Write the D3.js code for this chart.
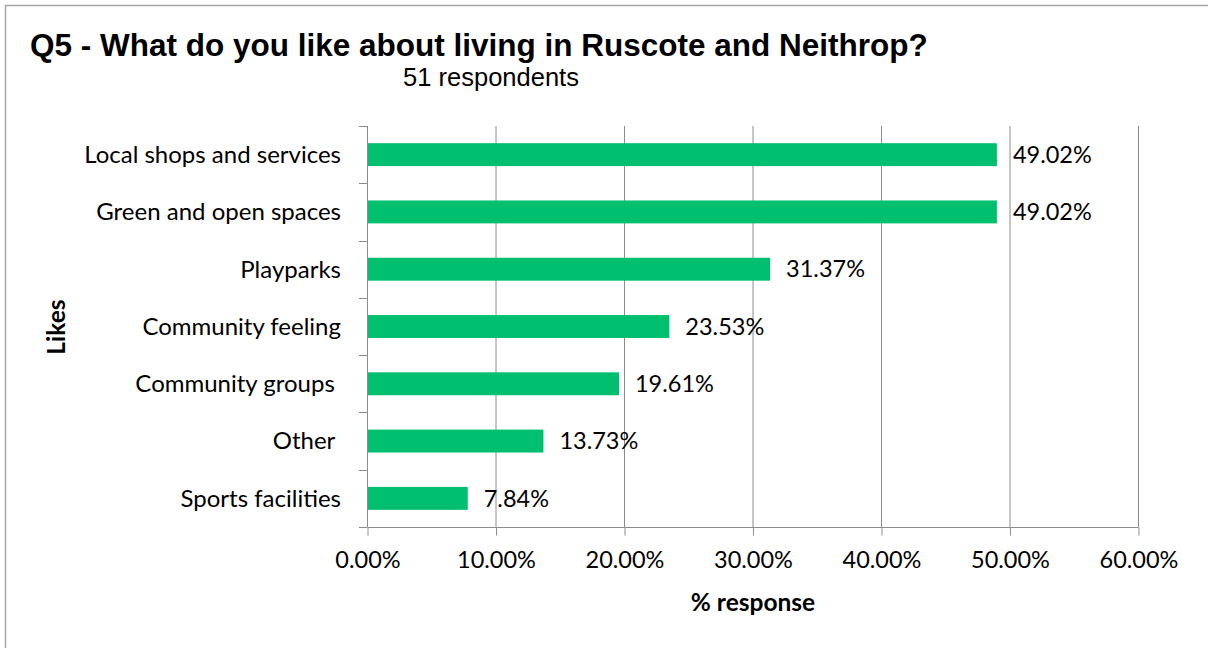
<!DOCTYPE html>
<html>
<head>
<meta charset="utf-8">
<script src="https://cdn.jsdelivr.net/npm/d3@7"></script>
<style>
  html, body { margin: 0; padding: 0; background: #fff; }
  svg { display: block; }
  .lbl { font-family: Lato, "Liberation Sans", sans-serif; white-space: pre; }
</style>
</head>
<body>
<svg id="chart" width="1208" height="648"></svg>
<script>
// Survey responses for Q5
const categories = [
  "Local shops and services",
  "Green and open spaces",
  "Playparks",
  "Community feeling",
  "Community groups ",
  "Other ",
  "Sports facilities"
];
const values = [49.02, 49.02, 31.37, 23.53, 19.61, 13.73, 7.84];
const xTicks = [0, 10, 20, 30, 40, 50, 60];

const svg = d3.select("#chart");
const W = 1208, H = 648;
const plot = { left: 367, right: 1138, top: 126, bottom: 527 };
const fs = 23.5;

// chart frame
svg.append("rect")
  .attr("x", 5.5).attr("y", 5.5)
  .attr("width", W + 10).attr("height", H + 10)
  .attr("fill", "#fff").attr("stroke", "#a6a6a6").attr("stroke-width", 1.5);

const x = d3.scaleLinear().domain([0, 60]).range([plot.left, plot.right]);
const y = d3.scaleBand().domain(categories).range([plot.top, plot.bottom]).paddingInner(0.6).paddingOuter(0.3);
const yEdges = d3.scaleLinear().domain([0, categories.length]).range([plot.top, plot.bottom]);

const gridColor = "#8c8c8c";

// vertical gridlines
svg.append("g").selectAll("line")
  .data(xTicks.slice(1))
  .join("line")
  .attr("x1", d => x(d) + 0.5).attr("x2", d => x(d) + 0.5)
  .attr("y1", plot.top).attr("y2", plot.bottom)
  .attr("stroke", gridColor).attr("stroke-width", 1);

// bars
svg.append("g").selectAll("rect")
  .data(values)
  .join("rect")
  .attr("x", x(0))
  .attr("y", (d, i) => y(categories[i]))
  .attr("width", d => x(d) - x(0))
  .attr("height", y.bandwidth())
  .attr("fill", "#00bf6f");

// bottom axis
const xAxis = d3.axisBottom(x).tickValues(xTicks).tickSize(8).tickPadding(16)
  .tickFormat(d => d.toFixed(2) + "%");
const gx = svg.append("g").attr("transform", `translate(0.5,${plot.bottom + 0.5})`).call(xAxis);
gx.select(".domain").attr("stroke", gridColor).attr("d", `M${plot.left},0H${plot.right}`);
gx.selectAll(".tick line").attr("stroke", gridColor);
gx.selectAll(".tick text").attr("class", "lbl").attr("font-size", fs).attr("fill", "#000");

// left axis line and category boundary ticks
svg.append("line")
  .attr("x1", plot.left + 0.5).attr("x2", plot.left + 0.5)
  .attr("y1", plot.top).attr("y2", plot.bottom)
  .attr("stroke", gridColor);
svg.append("g").selectAll("line")
  .data(d3.range(categories.length + 1))
  .join("line")
  .attr("x1", plot.left - 8).attr("x2", plot.left)
  .attr("y1", d => Math.round(yEdges(d)) + 0.5).attr("y2", d => Math.round(yEdges(d)) + 0.5)
  .attr("stroke", gridColor);

// category labels
svg.append("g").selectAll("text")
  .data(categories)
  .join("text")
  .attr("class", "lbl")
  .attr("x", 341)
  .attr("y", d => y(d) + y.bandwidth() / 2)
  .attr("dy", "0.35em")
  .attr("text-anchor", "end")
  .attr("font-size", 24)
  .text(d => d);

// value labels
svg.append("g").selectAll("text")
  .data(values)
  .join("text")
  .attr("class", "lbl")
  .attr("x", d => x(d) + 16)
  .attr("y", (d, i) => y(categories[i]) + y.bandwidth() / 2)
  .attr("dy", "0.35em")
  .attr("font-size", fs)
  .text(d => d.toFixed(2) + "%");

// titles
svg.append("text")
  .attr("x", 30).attr("y", 56)
  .attr("font-family", "Liberation Sans, Arial, sans-serif")
  .attr("font-weight", "bold").attr("font-size", 31.5)
  .text("Q5 - What do you like about living in Ruscote and Neithrop?");
svg.append("text")
  .attr("x", 491).attr("y", 86)
  .attr("text-anchor", "middle")
  .attr("font-family", "Liberation Sans, Arial, sans-serif")
  .attr("font-size", 25.5)
  .text("51 respondents");

// axis titles
svg.append("text")
  .attr("class", "lbl")
  .attr("x", 753).attr("y", 611)
  .attr("text-anchor", "middle")
  .attr("font-weight", "bold").attr("font-size", 24.5)
  .text("% response");
svg.append("text")
  .attr("class", "lbl")
  .attr("transform", "translate(65,327) rotate(-90)")
  .attr("text-anchor", "middle")
  .attr("font-weight", "bold").attr("font-size", 24.5)
  .text("Likes");
</script>
</body>
</html>
